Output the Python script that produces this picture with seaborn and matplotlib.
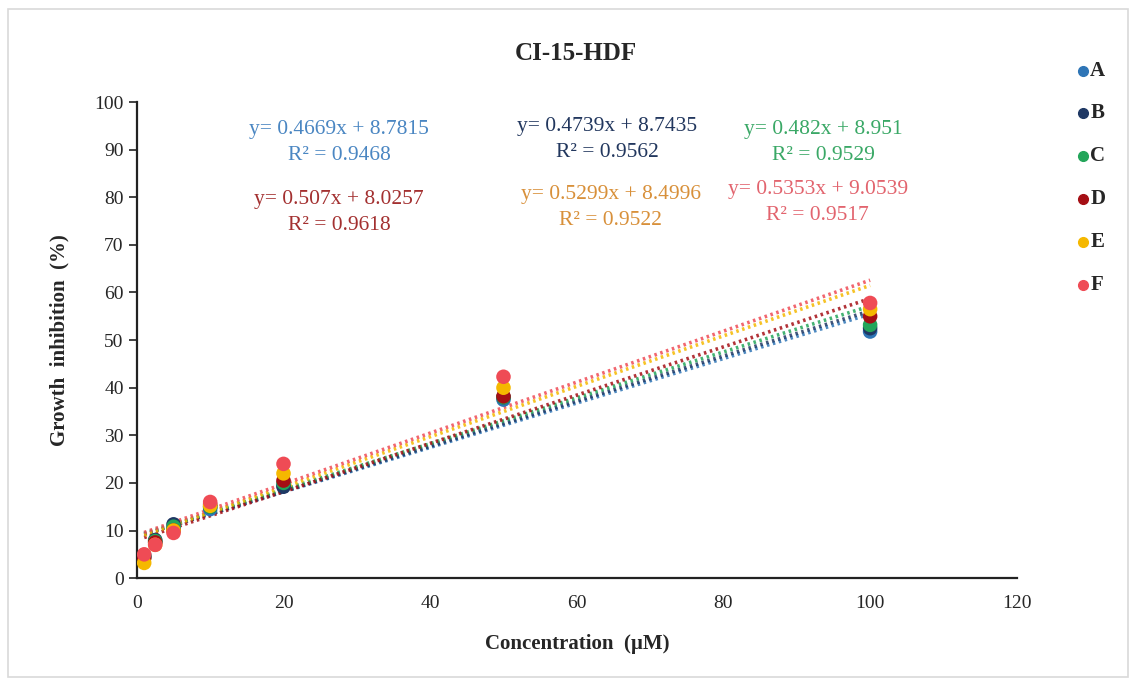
import numpy as np
import pandas as pd
import matplotlib
matplotlib.use("Agg")
import matplotlib.pyplot as plt
import seaborn as sns

# Concentrations tested (µM)
conc = [1, 2.5, 5, 10, 20, 50, 100]

# Growth inhibition (%) per sample
series_names = ["A", "B", "C", "D", "E", "F"]
inh_A = [4.5, 7.5, 10.5, 14.5, 19.5, 37.5, 51.8]
inh_B = [4.8, 8.0, 11.3, 15.0, 19.2, 38.0, 52.5]
inh_C = [4.5, 7.8, 10.8, 15.0, 20.0, 38.0, 53.2]
inh_D = [4.2, 7.5, 10.0, 15.5, 20.5, 38.2, 55.0]
inh_E = [3.2, 7.0, 10.0, 15.2, 22.0, 40.0, 56.5]
inh_F = [5.0, 7.0, 9.5, 16.0, 24.0, 42.3, 57.8]

# Linear trend lines (slope, intercept, R²)
slopes = [0.4669, 0.4739, 0.482, 0.507, 0.5299, 0.5353]
intercepts = [8.7815, 8.7435, 8.951, 8.0257, 8.4996, 9.0539]
r2 = [0.9468, 0.9562, 0.9529, 0.9618, 0.9522, 0.9517]

marker_colors = ["#2E75B6", "#1F3864", "#23A55A", "#A50F15", "#F5B800", "#EF4B55"]
text_colors = ["#4A86C2", "#22375E", "#3AA866", "#A33030", "#D8903A", "#E2646E"]
# equation label centres (figure fraction)
eq_pos = [(0.300, 0.792), (0.537, 0.796), (0.728, 0.792),
          (0.300, 0.690), (0.540, 0.697), (0.723, 0.704)]

data = pd.DataFrame({
    "conc": conc * 6,
    "inh": inh_A + inh_B + inh_C + inh_D + inh_E + inh_F,
    "sample": [s for s in series_names for _ in conc],
})

sns.set_theme(style="white")
plt.rcParams["font.family"] = ["Liberation Serif", "DejaVu Serif"]

fig = plt.figure(figsize=(11.31, 6.85), dpi=100)
ax = fig.add_axes([0.121, 0.156, 0.778, 0.695])

# dotted trend lines
xs = np.array([min(conc), max(conc)])
for m, b, c in zip(slopes, intercepts, marker_colors):
    ax.plot(xs, m * xs + b, linestyle=(0, (0.7, 1.0)), linewidth=2.6, color=c, alpha=0.85, zorder=2)

sns.scatterplot(data=data, x="conc", y="inh", hue="sample", palette=marker_colors,
                s=110, edgecolor="none", ax=ax, zorder=3, legend=False)

ax.set_xlim(0, 120)
ax.set_ylim(0, 100)
ax.set_xticks(range(0, 121, 20))
ax.set_yticks(range(0, 101, 10))
for sp in ["top", "right"]:
    ax.spines[sp].set_visible(False)
for sp in ["left", "bottom"]:
    ax.spines[sp].set_color("#222222")
    ax.spines[sp].set_linewidth(1.6)
ax.tick_params(axis="y", which="major", direction="out", length=6, width=1.2,
               color="#222222", labelsize=14, left=True)
ax.tick_params(axis="x", which="major", length=0, labelsize=14, pad=12)

ax.set_xlabel("Concentration  (µM)", fontsize=15, fontweight="bold", labelpad=16)
ax.set_ylabel("Growth  inhibition  (%)", fontsize=15, fontweight="bold", labelpad=18)
fig.text(0.509, 0.922, "CI-15-HDF", ha="center", va="center", fontsize=18, fontweight="bold")

for (fx, fy), m, b, r, tc in zip(eq_pos, slopes, intercepts, r2, text_colors):
    fig.text(fx, fy, f"y= {m:g}x + {b:g}\nR² = {r:.4f}", ha="center", va="center",
             fontsize=15.5, color=tc, linespacing=1.5)

# legend on the right
for i, (name, c) in enumerate(zip(series_names, marker_colors)):
    fy = 0.897 - i * 0.0625
    fig.add_artist(plt.Line2D([0.9575], [fy], marker="o", markersize=7, color=c,
                              linestyle="none", transform=fig.transFigure))
    fig.text(0.964, fy, name, ha="left", va="center", fontsize=15, fontweight="bold")

# outer chart frame
fig.add_artist(plt.Rectangle((0.007, 0.012), 0.99, 0.975, transform=fig.transFigure,
                             fill=False, edgecolor="#D9D9D9", linewidth=1.2))

fig.savefig("out.png", dpi=100, facecolor="white")
